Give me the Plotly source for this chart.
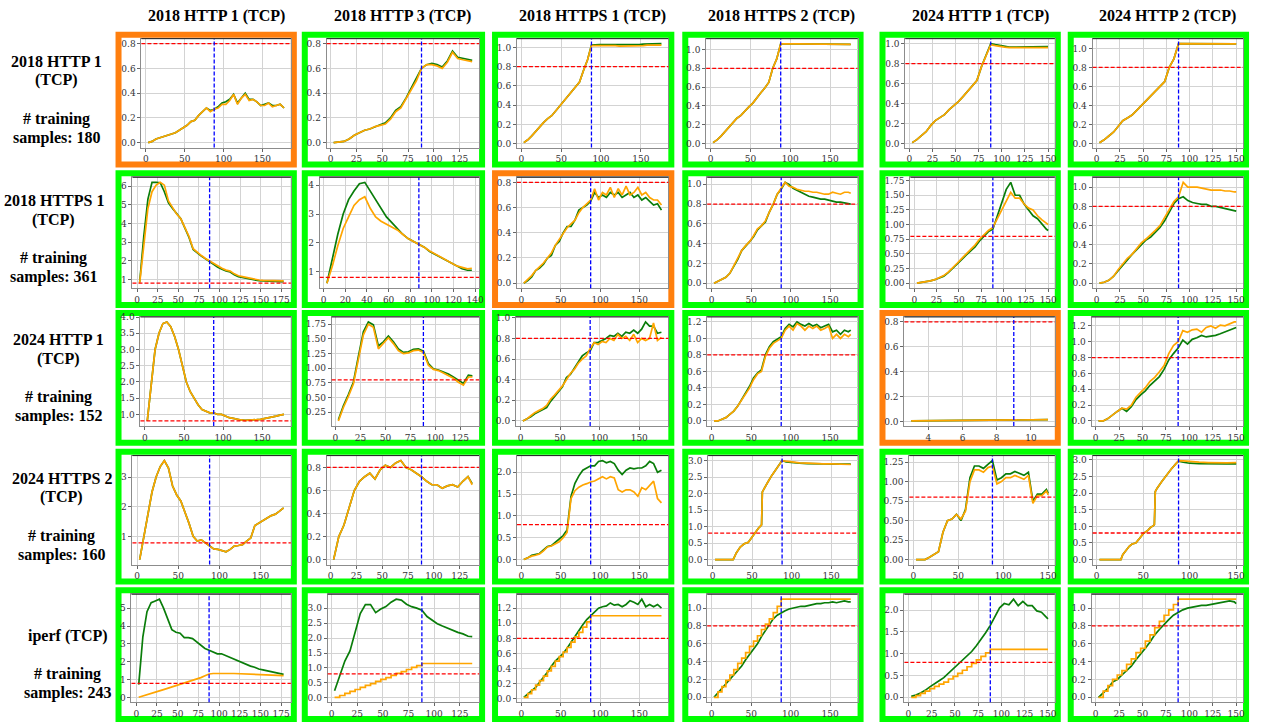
import plotly.graph_objects as go

W, H = 1261, 725

col_titles = ["2018 HTTP 1 (TCP)", "2018 HTTP 3 (TCP)", "2018 HTTPS 1 (TCP)",
              "2018 HTTPS 2 (TCP)", "2024 HTTP 1 (TCP)", "2024 HTTP 2 (TCP)"]
row_names = ["2018 HTTP 1", "2018 HTTPS 1", "2024 HTTP 1", "2024 HTTPS 2", "iperf"]
row_samples = [180, 361, 152, 160, 243]
# which panels are framed orange (the rest are framed green)
orange_frames = [(0, 0), (1, 2), (2, 4)]

threshold = 0.8
split_x = 88
split_x_small = 9

# ---------------- x grids ----------------
x_c0 = [3, 8, 13, 18, 23, 28, 33, 38, 43, 48, 53, 58, 63, 68, 73, 78, 83, 88, 93, 98,
        103, 108, 113, 118, 123, 128, 133, 138, 143, 148, 153, 158, 163, 168, 173, 178]
x_c3 = [3, 8, 13, 18, 23, 28, 33, 38, 43, 48, 53, 58, 63, 68, 73, 78, 83, 88, 93, 98,
        103, 108, 113, 118, 123, 128, 133, 138, 143, 148, 153, 158, 163, 168, 173, 176]
x_c1 = [3, 8, 13, 18, 23, 28, 33, 38, 43, 48, 53, 58, 63, 68, 73, 78, 83, 88, 93, 98,
        103, 108, 113, 118, 123, 128, 133, 137]
x_c4 = [3, 8, 13, 18, 23, 28, 33, 38, 43, 48, 53, 58, 63, 68, 73, 78, 83, 88, 93, 98,
        103, 108, 113, 118, 123, 128, 133, 138, 143, 148, 150]
x_24 = [3, 4, 5, 6, 7, 8, 9, 10, 11]
x_33 = [3, 8, 13, 18, 23, 26, 28, 30, 35, 40, 45, 50, 55, 58, 60, 62, 63, 65, 70, 75,
        80, 85, 88, 93, 100, 110, 120, 130, 140, 150, 160, 175]
x_35 = [3, 8, 13, 18, 23, 26, 28, 32, 35, 38, 42, 45, 50, 55, 58, 61, 62, 63, 65, 70,
        75, 80, 85, 88, 93, 100, 110, 120, 130, 140, 150]
x_st41 = [3, 8, 13, 18, 23, 28, 33, 38, 43, 48, 53, 58, 63, 68, 73, 78, 83, 88, 137]
x_st42 = [3, 8, 13, 18, 23, 28, 33, 38, 43, 48, 53, 58, 63, 68, 73, 78, 83, 88, 178]
x_st43 = [3, 8, 13, 18, 23, 28, 33, 38, 43, 48, 53, 58, 63, 68, 73, 78, 83, 88, 176]
x_st45 = [3, 8, 13, 18, 23, 28, 33, 38, 43, 48, 53, 58, 63, 68, 73, 78, 83, 88, 150]

# ---------------- row 0 ----------------
g_00 = [0.00, 0.01, 0.03, 0.04, 0.05, 0.06, 0.07, 0.08, 0.10, 0.12, 0.14, 0.17, 0.18, 0.22, 0.25, 0.28, 0.26, 0.27,
        0.29, 0.32, 0.33, 0.35, 0.39, 0.32, 0.36, 0.40, 0.35, 0.35, 0.33, 0.30, 0.31, 0.32, 0.30, 0.30, 0.31, 0.28]
o_00 = [0.00, 0.01, 0.03, 0.04, 0.05, 0.06, 0.07, 0.08, 0.10, 0.12, 0.14, 0.17, 0.18, 0.22, 0.25, 0.28, 0.25, 0.27,
        0.28, 0.31, 0.31, 0.34, 0.39, 0.31, 0.36, 0.39, 0.34, 0.35, 0.33, 0.30, 0.30, 0.32, 0.29, 0.30, 0.31, 0.28]
g_01 = [0.00, 0.005, 0.01, 0.03, 0.06, 0.08, 0.10, 0.11, 0.13, 0.145, 0.16, 0.20, 0.26, 0.29, 0.36, 0.44, 0.51, 0.60,
        0.63, 0.64, 0.63, 0.61, 0.66, 0.74, 0.69, 0.68, 0.67, 0.665]
o_01 = [0.00, 0.005, 0.01, 0.03, 0.06, 0.08, 0.10, 0.11, 0.13, 0.14, 0.15, 0.19, 0.25, 0.28, 0.35, 0.43, 0.50, 0.60,
        0.63, 0.63, 0.62, 0.60, 0.65, 0.73, 0.68, 0.67, 0.66, 0.655]
g_02 = [0.01, 0.04, 0.08, 0.13, 0.18, 0.22, 0.26, 0.29, 0.34, 0.39, 0.43, 0.49, 0.54, 0.58, 0.64, 0.76, 0.87, 1.025,
        1.03, 1.03, 1.03, 1.03, 1.03, 1.025, 1.025, 1.03, 1.03, 1.025, 1.03, 1.03, 1.035, 1.035, 1.035, 1.04, 1.04, 1.04]
o_02 = [0.01, 0.04, 0.08, 0.13, 0.18, 0.22, 0.26, 0.29, 0.34, 0.39, 0.43, 0.49, 0.54, 0.58, 0.64, 0.76, 0.87, 1.02,
        1.02, 1.02, 1.025, 1.02, 1.02, 1.02, 1.015, 1.015, 1.02, 1.02, 1.015, 1.02, 1.02, 1.025, 1.025, 1.025, 1.025, 1.025]
g_03 = [0.01, 0.04, 0.08, 0.13, 0.18, 0.23, 0.27, 0.30, 0.35, 0.39, 0.43, 0.49, 0.54, 0.59, 0.65, 0.80, 0.90, 1.06,
        1.062, 1.06, 1.06, 1.06, 1.06, 1.06, 1.058, 1.058, 1.058, 1.058, 1.056, 1.056, 1.056, 1.055, 1.055, 1.055, 1.055, 1.055]
o_03 = [0.01, 0.04, 0.08, 0.13, 0.18, 0.23, 0.27, 0.30, 0.35, 0.39, 0.43, 0.49, 0.54, 0.59, 0.65, 0.80, 0.90, 1.06,
        1.062, 1.06, 1.06, 1.06, 1.06, 1.06, 1.058, 1.058, 1.058, 1.058, 1.056, 1.056, 1.056, 1.055, 1.055, 1.055, 1.055, 1.055]
g_04 = [0.01, 0.04, 0.08, 0.12, 0.18, 0.23, 0.26, 0.29, 0.34, 0.38, 0.42, 0.47, 0.52, 0.57, 0.63, 0.77, 0.88, 1.00,
        0.99, 0.98, 0.97, 0.965, 0.965, 0.965, 0.965, 0.965, 0.965, 0.97, 0.97, 0.97, 0.97]
o_04 = [0.01, 0.04, 0.08, 0.12, 0.18, 0.23, 0.26, 0.29, 0.34, 0.38, 0.42, 0.47, 0.52, 0.57, 0.63, 0.77, 0.88, 0.99,
        0.98, 0.97, 0.965, 0.96, 0.96, 0.96, 0.96, 0.96, 0.955, 0.96, 0.96, 0.96, 0.96]
g_05 = [0.01, 0.04, 0.08, 0.12, 0.18, 0.24, 0.27, 0.30, 0.35, 0.40, 0.44, 0.49, 0.54, 0.59, 0.65, 0.80, 0.89, 1.05,
        1.05, 1.05, 1.05, 1.05, 1.05, 1.05, 1.048, 1.048, 1.048, 1.048, 1.048, 1.047, 1.047]
o_05 = [0.01, 0.04, 0.08, 0.12, 0.18, 0.24, 0.27, 0.30, 0.35, 0.40, 0.44, 0.49, 0.54, 0.59, 0.65, 0.80, 0.89, 1.05,
        1.05, 1.05, 1.05, 1.05, 1.05, 1.05, 1.048, 1.048, 1.048, 1.048, 1.048, 1.047, 1.047]

# ---------------- row 1 ----------------
g_10 = [0.85, 3.3, 5.3, 6.2, 6.2, 6.18, 5.7, 5.1, 4.8, 4.5, 4.25, 3.75, 3.25, 2.6, 2.4, 2.25, 2.1, 1.95,
        1.8, 1.65, 1.55, 1.45, 1.4, 1.25, 1.15, 1.1, 1.05, 1.0, 0.97, 0.93, 0.92, 0.9, 0.9, 0.89, 0.88, 0.88]
o_10 = [0.8, 2.8, 4.8, 5.7, 6.05, 6.2, 6.05, 5.2, 4.85, 4.5, 4.25, 3.8, 3.3, 2.65, 2.45, 2.28, 2.12, 1.98,
        1.85, 1.7, 1.6, 1.5, 1.45, 1.3, 1.2, 1.15, 1.1, 1.05, 1.0, 0.97, 0.95, 0.94, 0.94, 0.93, 0.93, 0.92]
g_11 = [0.6, 1.5, 2.3, 3.0, 3.5, 3.8, 4.05, 4.1, 3.8, 3.5, 3.2, 2.9, 2.7, 2.5, 2.3, 2.15, 2.05, 1.95,
        1.85, 1.7, 1.6, 1.5, 1.4, 1.3, 1.2, 1.1, 1.05, 1.05]
o_11 = [0.6, 1.2, 1.9, 2.5, 2.9, 3.3, 3.5, 3.6, 3.2, 2.9, 2.75, 2.65, 2.55, 2.45, 2.3, 2.15, 2.05, 1.95,
        1.85, 1.72, 1.62, 1.52, 1.42, 1.32, 1.2, 1.15, 1.1, 1.12]
g_12 = [0.0, 0.02, 0.05, 0.1, 0.12, 0.15, 0.2, 0.22, 0.3, 0.33, 0.4, 0.45, 0.45, 0.5, 0.58, 0.6, 0.62, 0.65,
        0.72, 0.68, 0.7, 0.68, 0.72, 0.7, 0.72, 0.68, 0.7, 0.72, 0.68, 0.7, 0.66, 0.68, 0.65, 0.62, 0.63, 0.58]
o_12 = [0.0, 0.03, 0.06, 0.1, 0.13, 0.16, 0.2, 0.24, 0.3, 0.35, 0.4, 0.44, 0.47, 0.5, 0.56, 0.6, 0.63, 0.66,
        0.75, 0.66, 0.72, 0.7, 0.76, 0.68, 0.75, 0.7, 0.77, 0.7, 0.72, 0.76, 0.7, 0.72, 0.68, 0.66, 0.66, 0.62]
g_13 = [0.0, 0.02, 0.04, 0.06, 0.1, 0.17, 0.24, 0.33, 0.37, 0.42, 0.47, 0.54, 0.58, 0.62, 0.72, 0.8, 0.9, 0.95,
        1.02, 1.0, 0.96, 0.94, 0.92, 0.9, 0.88, 0.87, 0.86, 0.85, 0.85, 0.84, 0.83, 0.82, 0.82, 0.81, 0.8, 0.8]
o_13 = [0.0, 0.02, 0.04, 0.06, 0.1, 0.18, 0.25, 0.33, 0.38, 0.42, 0.48, 0.55, 0.58, 0.63, 0.72, 0.8, 0.9, 0.96,
        1.02, 0.98, 0.97, 0.95, 0.94, 0.93, 0.93, 0.92, 0.92, 0.91, 0.9, 0.9, 0.92, 0.91, 0.9, 0.92, 0.92, 0.91]
g_14 = [0.0, 0.01, 0.02, 0.04, 0.06, 0.09, 0.12, 0.18, 0.25, 0.33, 0.4, 0.48, 0.55, 0.62, 0.72, 0.8, 0.88, 0.92,
        1.15, 1.35, 1.6, 1.72, 1.5, 1.5, 1.35, 1.25, 1.15, 1.1, 1.0, 0.92, 0.9]
o_14 = [0.0, 0.01, 0.02, 0.04, 0.06, 0.09, 0.13, 0.19, 0.26, 0.34, 0.42, 0.5, 0.58, 0.65, 0.75, 0.82, 0.9, 0.95,
        1.1, 1.25, 1.42, 1.55, 1.45, 1.45, 1.35, 1.28, 1.25, 1.15, 1.08, 1.02, 1.0]
g_15 = [0.0, 0.01, 0.03, 0.07, 0.13, 0.19, 0.25, 0.3, 0.35, 0.4, 0.45, 0.48, 0.53, 0.58, 0.65, 0.74, 0.83, 0.88,
        0.9, 0.86, 0.84, 0.83, 0.82, 0.82, 0.8, 0.8, 0.79, 0.78, 0.77, 0.76, 0.75]
o_15 = [0.0, 0.01, 0.03, 0.07, 0.14, 0.2, 0.26, 0.3, 0.36, 0.42, 0.46, 0.5, 0.55, 0.6, 0.68, 0.77, 0.85, 0.9,
        1.05, 1.0, 1.0, 1.0, 0.99, 0.98, 0.97, 0.97, 0.97, 0.96, 0.96, 0.95, 0.95]

# ---------------- row 2 ----------------
g_20 = [0.8, 2.0, 3.0, 3.5, 3.8, 3.85, 3.7, 3.4, 3.0, 2.5, 2.0, 1.7, 1.5, 1.3, 1.15, 1.1, 1.05, 1.05,
        1.0, 1.0, 0.95, 0.9, 0.88, 0.85, 0.83, 0.82, 0.82, 0.83, 0.84, 0.85, 0.87, 0.9, 0.92, 0.95, 0.98, 1.0]
o_20 = [0.8, 2.0, 3.0, 3.5, 3.8, 3.85, 3.7, 3.4, 3.0, 2.5, 2.0, 1.7, 1.5, 1.3, 1.15, 1.1, 1.05, 1.05,
        1.0, 1.0, 0.95, 0.9, 0.88, 0.85, 0.83, 0.82, 0.82, 0.83, 0.84, 0.85, 0.87, 0.9, 0.92, 0.95, 0.98, 1.0]
g_21 = [0.12, 0.36, 0.55, 0.76, 1.2, 1.62, 1.79, 1.74, 1.38, 1.45, 1.55, 1.45, 1.33, 1.27, 1.28, 1.32, 1.33, 1.29,
        1.08, 0.99, 0.97, 0.94, 0.9, 0.85, 0.79, 0.74, 0.88, 0.87]
o_21 = [0.1, 0.33, 0.52, 0.73, 1.15, 1.57, 1.75, 1.7, 1.33, 1.42, 1.52, 1.42, 1.3, 1.25, 1.26, 1.3, 1.31, 1.27,
        1.05, 0.98, 0.96, 0.92, 0.88, 0.83, 0.76, 0.71, 0.85, 0.85]
g_22 = [0.0, 0.02, 0.04, 0.07, 0.09, 0.11, 0.13, 0.19, 0.24, 0.28, 0.33, 0.42, 0.45, 0.51, 0.57, 0.63, 0.66, 0.68,
        0.76, 0.76, 0.78, 0.8, 0.83, 0.82, 0.85, 0.82, 0.86, 0.85, 0.88, 0.85, 0.89, 0.96, 0.92, 0.92, 0.85, 0.86]
o_22 = [0.0, 0.02, 0.05, 0.08, 0.1, 0.12, 0.15, 0.21, 0.25, 0.29, 0.34, 0.4, 0.46, 0.5, 0.56, 0.6, 0.63, 0.7,
        0.76, 0.74, 0.77, 0.76, 0.8, 0.78, 0.84, 0.8, 0.82, 0.78, 0.84, 0.76, 0.8, 0.78, 0.8, 0.95, 0.78, 0.81]
g_23 = [0.0, 0.0, 0.02, 0.04, 0.08, 0.12, 0.18, 0.26, 0.34, 0.42, 0.52, 0.58, 0.62, 0.8, 0.9, 0.96, 0.99, 1.02,
        1.12, 1.17, 1.14, 1.2, 1.17, 1.15, 1.18, 1.15, 1.17, 1.13, 1.15, 1.17, 1.08, 1.1, 1.05, 1.1, 1.08, 1.1]
o_23 = [0.0, 0.0, 0.02, 0.04, 0.08, 0.12, 0.18, 0.25, 0.33, 0.4, 0.5, 0.57, 0.6, 0.78, 0.88, 0.94, 0.97, 1.0,
        1.1, 1.15, 1.1, 1.18, 1.15, 1.1, 1.15, 1.12, 1.15, 1.1, 1.12, 1.15, 1.0, 1.05, 1.0, 1.05, 1.02, 1.05]
g_24 = [0.005, 0.006, 0.007, 0.008, 0.010, 0.011, 0.013, 0.014, 0.015]
o_24 = [0.005, 0.006, 0.007, 0.008, 0.010, 0.011, 0.013, 0.014, 0.015]
g_25 = [0.0, 0.0, 0.03, 0.08, 0.12, 0.16, 0.12, 0.18, 0.27, 0.33, 0.38, 0.45, 0.5, 0.56, 0.65, 0.77, 0.85, 0.92,
        1.02, 0.97, 1.03, 1.05, 1.08, 1.06, 1.07, 1.08, 1.1, 1.12, 1.15, 1.17, 1.18]
o_25 = [0.0, 0.0, 0.03, 0.08, 0.12, 0.16, 0.15, 0.2, 0.3, 0.36, 0.42, 0.5, 0.55, 0.62, 0.7, 0.85, 0.95, 1.0,
        1.14, 1.12, 1.15, 1.16, 1.12, 1.18, 1.2, 1.17, 1.21, 1.2, 1.23, 1.25, 1.25]

# ---------------- row 3 ----------------
g_30 = [0.24, 1.0, 1.7, 2.5, 3.0, 3.35, 3.55, 3.3, 2.7, 2.4, 2.2, 1.85, 1.45, 1.02, 0.86, 0.9, 0.8, 0.67,
        0.6, 0.58, 0.55, 0.5, 0.58, 0.69, 0.71, 0.74, 0.86, 0.96, 1.38, 1.47, 1.54, 1.63, 1.71, 1.76, 1.86, 1.97]
o_30 = [0.24, 1.0, 1.7, 2.5, 3.0, 3.35, 3.55, 3.3, 2.7, 2.4, 2.2, 1.85, 1.45, 1.02, 0.86, 0.9, 0.8, 0.67,
        0.6, 0.58, 0.55, 0.5, 0.58, 0.69, 0.71, 0.74, 0.86, 0.96, 1.38, 1.47, 1.54, 1.63, 1.71, 1.76, 1.86, 1.97]
g_31 = [0.0, 0.2, 0.3, 0.45, 0.6, 0.68, 0.72, 0.75, 0.7, 0.78, 0.82, 0.8, 0.84, 0.86, 0.8, 0.78, 0.75, 0.72,
        0.68, 0.65, 0.65, 0.62, 0.64, 0.65, 0.63, 0.68, 0.72, 0.66]
o_31 = [0.0, 0.2, 0.3, 0.45, 0.6, 0.68, 0.72, 0.75, 0.7, 0.78, 0.82, 0.8, 0.84, 0.86, 0.8, 0.78, 0.75, 0.72,
        0.68, 0.65, 0.65, 0.62, 0.64, 0.65, 0.63, 0.68, 0.72, 0.65]
g_32 = [0.0, 0.04, 0.1, 0.12, 0.14, 0.22, 0.3, 0.32, 0.4, 0.47, 0.55, 0.68, 1.45, 1.75, 1.92, 2.05, 2.1, 2.15,
        2.15, 2.25, 2.27, 2.22, 2.25, 2.2, 2.05, 1.95, 2.05, 2.1, 2.08, 2.1, 2.1, 2.15, 2.25, 2.2, 2.0, 2.05]
o_32 = [0.0, 0.04, 0.08, 0.1, 0.13, 0.2, 0.29, 0.31, 0.36, 0.41, 0.5, 0.62, 1.4, 1.58, 1.66, 1.71, 1.74, 1.78,
        1.8, 1.85, 1.9, 1.85, 1.9, 1.87, 1.6, 1.55, 1.6, 1.6, 1.55, 1.45, 1.65, 1.6, 1.7, 1.8, 1.4, 1.3]
g_33 = [0.0, 0.0, 0.0, 0.0, 0.0, 0.0, 0.1, 0.2, 0.38, 0.48, 0.52, 0.7, 0.85, 0.95, 1.0, 1.05, 2.05, 2.15, 2.35, 2.55,
        2.72, 2.88, 3.0, 2.96, 2.94, 2.92, 2.91, 2.9, 2.9, 2.9, 2.89, 2.89]
o_33 = [0.0, 0.0, 0.0, 0.0, 0.0, 0.0, 0.1, 0.2, 0.38, 0.48, 0.52, 0.7, 0.85, 0.95, 1.0, 1.05, 2.05, 2.15, 2.35, 2.55,
        2.72, 2.88, 3.0, 2.98, 2.95, 2.93, 2.92, 2.9, 2.9, 2.9, 2.89, 2.88]
g_34 = [0.0, 0.0, 0.0, 0.03, 0.06, 0.1, 0.35, 0.5, 0.52, 0.58, 0.5, 0.64, 1.05, 1.2, 1.2, 1.17, 1.22, 1.27,
        1.02, 1.05, 1.1, 1.1, 1.13, 1.1, 1.08, 1.12, 0.75, 0.84, 0.84, 0.9, 0.85]
o_34 = [0.0, 0.0, 0.0, 0.03, 0.06, 0.1, 0.35, 0.5, 0.52, 0.58, 0.52, 0.62, 1.0, 1.15, 1.15, 1.12, 1.18, 1.2,
        0.97, 1.0, 1.05, 1.05, 1.08, 1.05, 1.03, 1.08, 0.72, 0.82, 0.82, 0.88, 0.83]
g_35 = [0.0, 0.0, 0.0, 0.0, 0.0, 0.0, 0.15, 0.3, 0.4, 0.47, 0.5, 0.6, 0.78, 0.88, 0.97, 1.02, 1.05, 2.05, 2.15, 2.35,
        2.55, 2.72, 2.88, 2.96, 2.93, 2.9, 2.89, 2.88, 2.88, 2.88, 2.88]
o_35 = [0.0, 0.0, 0.0, 0.0, 0.0, 0.0, 0.15, 0.3, 0.4, 0.47, 0.5, 0.6, 0.78, 0.88, 0.97, 1.02, 1.05, 2.05, 2.15, 2.35,
        2.55, 2.72, 2.88, 2.98, 2.97, 2.95, 2.93, 2.92, 2.91, 2.91, 2.92]

# ---------------- row 4 ----------------
g_40 = [0.73, 3.4, 4.8, 5.3, 5.4, 5.5, 5.0, 4.4, 3.8, 3.65, 3.6, 3.35, 3.35, 3.3, 3.1, 2.9, 2.75, 2.65,
        2.55, 2.45, 2.45, 2.35, 2.25, 2.15, 2.05, 1.95, 1.88, 1.76, 1.7, 1.6, 1.55, 1.5, 1.45, 1.4, 1.36, 1.3]
o_40 = [0.02, 0.1, 0.17, 0.24, 0.3, 0.38, 0.45, 0.52, 0.6, 0.67, 0.74, 0.8, 0.88, 0.96, 1.04, 1.12, 1.22, 1.32,
        1.35, 1.36, 1.36, 1.36, 1.35, 1.35, 1.34, 1.33, 1.33, 1.31, 1.3, 1.29, 1.27, 1.26, 1.25, 1.24, 1.24, 1.23]
g_41 = [0.24, 0.72, 1.23, 1.57, 2.2, 2.82, 3.12, 3.12, 2.85, 2.97, 3.05, 3.2, 3.3, 3.27, 3.13, 3.05, 3.0, 2.93,
        2.72, 2.59, 2.48, 2.4, 2.33, 2.25, 2.19, 2.14, 2.06, 2.05]
o_41 = [0.02, 0.08, 0.15, 0.22, 0.28, 0.35, 0.42, 0.48, 0.55, 0.62, 0.68, 0.75, 0.82, 0.88, 0.95, 1.02, 1.08, 1.15, 1.15]
g_42 = [0.02, 0.06, 0.1, 0.15, 0.22, 0.28, 0.35, 0.43, 0.5, 0.55, 0.6, 0.67, 0.75, 0.82, 0.9, 0.98, 1.05, 1.1,
        1.15, 1.2, 1.22, 1.23, 1.27, 1.24, 1.25, 1.22, 1.25, 1.3, 1.28, 1.25, 1.32, 1.22, 1.25, 1.22, 1.25, 1.2]
o_42 = [0.02, 0.07, 0.12, 0.18, 0.24, 0.3, 0.37, 0.43, 0.5, 0.56, 0.62, 0.68, 0.75, 0.82, 0.88, 0.95, 1.02, 1.1, 1.1]
g_43 = [0.0, 0.05, 0.1, 0.15, 0.2, 0.25, 0.3, 0.35, 0.42, 0.48, 0.55, 0.6, 0.68, 0.75, 0.82, 0.88, 0.92, 0.95,
        0.97, 0.99, 1.0, 1.01, 1.02, 1.02, 1.03, 1.04, 1.05, 1.05, 1.06, 1.06, 1.07, 1.06, 1.07, 1.08, 1.07, 1.07]
o_43 = [0.0, 0.06, 0.12, 0.19, 0.25, 0.31, 0.38, 0.44, 0.5, 0.57, 0.63, 0.69, 0.76, 0.82, 0.88, 0.95, 1.02, 1.1, 1.1]
g_44 = [0.02, 0.05, 0.1, 0.16, 0.24, 0.32, 0.38, 0.45, 0.55, 0.65, 0.75, 0.85, 0.95, 1.05, 1.18, 1.32, 1.48, 1.65,
        1.85, 2.05, 2.15, 2.12, 2.25, 2.1, 2.2, 2.1, 2.1, 1.98, 1.95, 1.85, 1.8]
o_44 = [0.0, 0.04, 0.09, 0.14, 0.2, 0.25, 0.3, 0.35, 0.42, 0.48, 0.55, 0.62, 0.7, 0.78, 0.86, 0.94, 1.02, 1.1, 1.1]
g_45 = [0.0, 0.05, 0.1, 0.17, 0.2, 0.25, 0.3, 0.35, 0.42, 0.48, 0.55, 0.62, 0.7, 0.76, 0.82, 0.87, 0.92, 0.95,
        0.98, 1.0, 1.01, 1.02, 1.03, 1.03, 1.04, 1.05, 1.06, 1.07, 1.08, 1.07, 1.05]
o_45 = [0.0, 0.07, 0.13, 0.2, 0.25, 0.3, 0.37, 0.43, 0.5, 0.55, 0.63, 0.7, 0.78, 0.85, 0.92, 0.98, 1.04, 1.1, 1.1]

# panel table: (x green, green, x orange, orange, orange line shape)
panels = {
    (0, 0): (x_c0, g_00, x_c0, o_00, "linear"), (0, 1): (x_c1, g_01, x_c1, o_01, "linear"),
    (0, 2): (x_c3, g_02, x_c3, o_02, "linear"), (0, 3): (x_c3, g_03, x_c3, o_03, "linear"),
    (0, 4): (x_c4, g_04, x_c4, o_04, "linear"), (0, 5): (x_c4, g_05, x_c4, o_05, "linear"),
    (1, 0): (x_c0, g_10, x_c0, o_10, "linear"), (1, 1): (x_c1, g_11, x_c1, o_11, "linear"),
    (1, 2): (x_c0, g_12, x_c0, o_12, "linear"), (1, 3): (x_c3, g_13, x_c3, o_13, "linear"),
    (1, 4): (x_c4, g_14, x_c4, o_14, "linear"), (1, 5): (x_c4, g_15, x_c4, o_15, "linear"),
    (2, 0): (x_c0, g_20, x_c0, o_20, "linear"), (2, 1): (x_c1, g_21, x_c1, o_21, "linear"),
    (2, 2): (x_c0, g_22, x_c0, o_22, "linear"), (2, 3): (x_c3, g_23, x_c3, o_23, "linear"),
    (2, 4): (x_24, g_24, x_24, o_24, "linear"), (2, 5): (x_c4, g_25, x_c4, o_25, "linear"),
    (3, 0): (x_c0, g_30, x_c0, o_30, "linear"), (3, 1): (x_c1, g_31, x_c1, o_31, "linear"),
    (3, 2): (x_c0, g_32, x_c0, o_32, "linear"), (3, 3): (x_33, g_33, x_33, o_33, "linear"),
    (3, 4): (x_c4, g_34, x_c4, o_34, "linear"), (3, 5): (x_35, g_35, x_35, o_35, "linear"),
    (4, 0): (x_c0, g_40, x_c0, o_40, "linear"), (4, 1): (x_c1, g_41, x_st41, o_41, "hv"),
    (4, 2): (x_c0, g_42, x_st42, o_42, "hv"), (4, 3): (x_c3, g_43, x_st43, o_43, "hv"),
    (4, 4): (x_c4, g_44, x_st45, o_44, "hv"), (4, 5): (x_c4, g_45, x_st45, o_45, "hv"),
}

# tick steps per panel
x_dt = [[50, 25, 50, 50, 25, 25], [25, 20, 50, 50, 25, 25], [50, 25, 50, 50, 2, 25],
        [50, 25, 50, 50, 50, 50], [25, 25, 50, 50, 25, 25]]
y_dt = [[0.2] * 6, [1, 1, 0.2, 0.2, 0.25, 0.2], [0.5, 0.25, 0.2, 0.2, 0.2, 0.2],
        [1, 0.2, 0.5, 0.5, 0.25, 0.5], [1, 0.5, 0.2, 0.2, 0.5, 0.2]]

# ---------------- geometry (pixels) ----------------
box_x = [(116, 298), (303, 487), (494, 677), (685, 867), (883, 1065), (1072, 1254)]
box_y = [(27, 164), (167, 306), (308, 445), (448, 585), (588, 724)]
left_off = [[26, 25, 25, 24, 26, 25], [17, 18, 25, 25, 31, 25], [25, 30, 24, 25, 25, 24],
            [17, 25, 25, 26, 30, 25], [16, 26, 25, 25, 25, 24]]
row_label_cx = [57, 54, 59, 62, 68]

GREEN_LINE = "#0a7d0a"
ORANGE_LINE = "#ffa500"
FRAME_GREEN = "#00ff00"
FRAME_ORANGE = "#ff7f0e"
TICK_FONT = dict(family="DejaVu Serif", size=9, color="#333333")
HEAD_FONT = dict(family="Liberation Serif", size=16, color="#000000")

fig = go.Figure()
layout = dict(width=W, height=H, margin=dict(l=0, r=0, t=0, b=0),
              paper_bgcolor="white", plot_bgcolor="white", showlegend=False)
shapes = []
annotations = []


def fmt(dt):
    if dt >= 1:
        return ".0f"
    if abs(dt * 10 - round(dt * 10)) > 1e-9:
        return ".2f"
    return ".1f"


n = 0
for r in range(5):
    for c in range(6):
        n += 1
        xa = "x" if n == 1 else f"x{n}"
        ya = "y" if n == 1 else f"y{n}"
        xg, g, xo, o, shp = panels[(r, c)]
        vx = split_x_small if (r, c) == (2, 4) else split_x

        fig.add_trace(go.Scatter(x=xg, y=g, xaxis=xa, yaxis=ya, mode="lines",
                                 line=dict(color=GREEN_LINE, width=1.7), hoverinfo="skip"))
        fig.add_trace(go.Scatter(x=xo, y=o, xaxis=xa, yaxis=ya, mode="lines",
                                 line=dict(color=ORANGE_LINE, width=1.7, shape=shp), hoverinfo="skip"))

        xmin = min(min(xg), min(xo), vx)
        xmax = max(max(xg), max(xo), vx)
        ymin = min(min(g), min(o), threshold)
        ymax = max(max(g), max(o), threshold)
        xpad = 0.05 * (xmax - xmin)
        ypad = 0.05 * (ymax - ymin)

        L = box_x[c][0] + left_off[r][c]
        R = box_x[c][1] - 6
        T = box_y[r][0] + 7
        B = box_y[r][1] - 20

        common = dict(showgrid=True, gridcolor="#d3d3d3", gridwidth=1, zeroline=False,
                      showline=True, linecolor="#8c8c8c", linewidth=1, mirror=True,
                      ticks="outside", ticklen=3, tickcolor="#666666", tickwidth=1,
                      tickfont=TICK_FONT, tick0=0, fixedrange=True)
        layout["xaxis" if n == 1 else f"xaxis{n}"] = dict(
            domain=[L / W, R / W], anchor=ya, range=[xmin - xpad, xmax + xpad],
            dtick=x_dt[r][c], tickformat="d", **common)
        layout["yaxis" if n == 1 else f"yaxis{n}"] = dict(
            domain=[1 - B / H, 1 - T / H], anchor=xa, range=[ymin - ypad, ymax + ypad],
            dtick=y_dt[r][c], tickformat=fmt(y_dt[r][c]), **common)

        # threshold and split markers
        shapes.append(dict(type="line", xref=f"{xa} domain", x0=0, x1=1, yref=ya,
                           y0=threshold, y1=threshold,
                           line=dict(color="#ff0000", width=1.3, dash="4px,2px")))
        shapes.append(dict(type="line", xref=xa, x0=vx, x1=vx, yref=f"{ya} domain",
                           y0=0, y1=1, line=dict(color="#0000ff", width=1.3, dash="4px,2px")))
        # darker top spine
        shapes.append(dict(type="line", xref=f"{xa} domain", x0=0, x1=1,
                           yref=f"{ya} domain", y0=1, y1=1,
                           line=dict(color="#222222", width=1)))
        # panel frame (below, so tick labels stay readable)
        col = FRAME_ORANGE if (r, c) in orange_frames else FRAME_GREEN
        shapes.append(dict(type="rect", xref="paper", yref="paper", layer="below",
                           x0=(box_x[c][0] + 3) / W, x1=(box_x[c][1] - 3) / W,
                           y0=1 - (box_y[r][1] - 3) / H, y1=1 - (box_y[r][0] + 3) / H,
                           line=dict(color=col, width=6), fillcolor="rgba(0,0,0,0)"))

        if r == 0:
            annotations.append(dict(text=f"<b>{col_titles[c]}</b>", xref="paper", yref="paper",
                                    x=(L + R) / 2 / W, y=1 - 11 / H, xanchor="center",
                                    yanchor="middle", showarrow=False, font=HEAD_FONT))

# row labels
for r in range(5):
    cy = (box_y[r][0] + box_y[r][1]) / 2
    if r < 4:
        lines = [row_names[r], "(TCP)", "", "# training", f"samples: {row_samples[r]}"]
    else:
        lines = ["", "iperf (TCP)", "", "# training", f"samples: {row_samples[r]}"]
    for i, t in enumerate(lines):
        if not t:
            continue
        annotations.append(dict(text=f"<b>{t}</b>", xref="paper", yref="paper",
                                x=row_label_cx[r] / W, y=1 - (cy + (i - 2) * 19.3) / H,
                                xanchor="center", yanchor="middle", showarrow=False,
                                font=HEAD_FONT))

layout["shapes"] = shapes
layout["annotations"] = annotations
fig.update_layout(**layout)
fig.write_html("out.html", config={"displayModeBar": False, "staticPlot": True},
               post_script="document.body.style.margin='0px';document.body.style.overflow='hidden';")
